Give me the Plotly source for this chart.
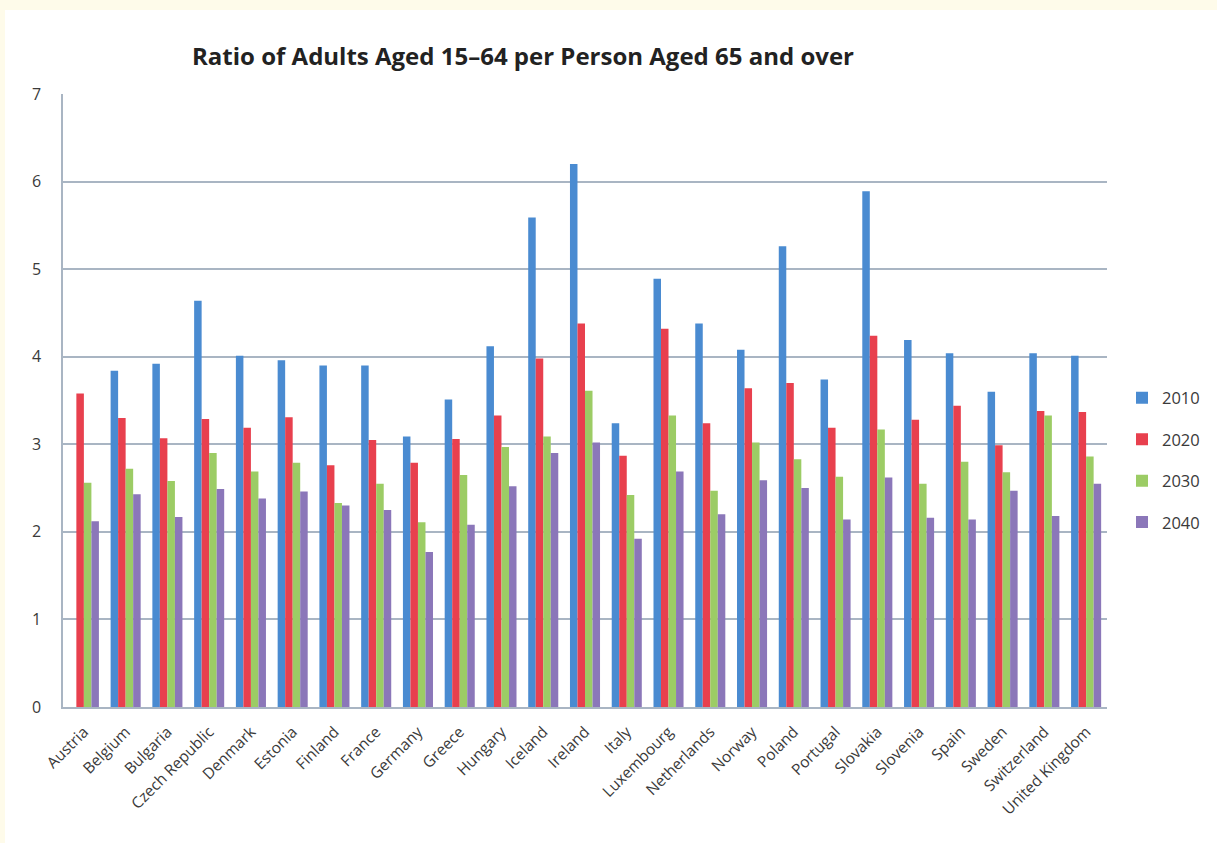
import plotly.graph_objects as go

# Countries on the category axis
countries = [
    "Austria", "Belgium", "Bulgaria", "Czech Republic", "Denmark", "Estonia",
    "Finland", "France", "Germany", "Greece", "Hungary", "Iceland", "Ireland",
    "Italy", "Luxembourg", "Netherlands", "Norway", "Poland", "Portugal",
    "Slovakia", "Slovenia", "Spain", "Sweden", "Switzerland", "United Kingdom",
]

# Ratio of adults aged 15-64 per person aged 65+, by year
ratio_2010 = [None, 3.84, 3.92, 4.64, 4.01, 3.96, 3.90, 3.90, 3.09, 3.51,
              4.12, 5.59, 6.20, 3.24, 4.89, 4.38, 4.08, 5.26, 3.74,
              5.89, 4.19, 4.04, 3.60, 4.04, 4.01]
ratio_2020 = [3.58, 3.30, 3.07, 3.29, 3.19, 3.31, 2.76, 3.05, 2.79, 3.06,
              3.33, 3.98, 4.38, 2.87, 4.32, 3.24, 3.64, 3.70, 3.19,
              4.24, 3.28, 3.44, 2.99, 3.38, 3.37]
ratio_2030 = [2.56, 2.72, 2.58, 2.90, 2.69, 2.79, 2.33, 2.55, 2.11, 2.65,
              2.97, 3.09, 3.61, 2.42, 3.33, 2.47, 3.02, 2.83, 2.63,
              3.17, 2.55, 2.80, 2.68, 3.33, 2.86]
ratio_2040 = [2.12, 2.43, 2.17, 2.49, 2.38, 2.46, 2.30, 2.25, 1.77, 2.08,
              2.52, 2.90, 3.02, 1.92, 2.69, 2.20, 2.59, 2.50, 2.14,
              2.62, 2.16, 2.14, 2.47, 2.18, 2.55]

years = ["2010", "2020", "2030", "2040"]
series = [ratio_2010, ratio_2020, ratio_2030, ratio_2040]
colors = ["#4a8bd1", "#e8404e", "#9ccc65", "#8b77b9"]

fig = go.Figure()
for name, vals, col in zip(years, series, colors):
    fig.add_trace(go.Bar(
        x=countries, y=vals, name=name, legendgroup=name,
        marker=dict(color=col, line=dict(width=0)),
    ))

W, H = 1217, 843
ml, mr, mt, mb = 63, 110, 94, 136
pw, ph = W - ml - mr, H - mt - mb

def px_x(px):
    return (px - ml) / pw

def px_y(py):
    return (H - mb - py) / ph

# White card on the cream page
fig.add_shape(type="rect", xref="paper", yref="paper", layer="below",
              x0=px_x(5), x1=px_x(W + 5), y0=px_y(H + 5), y1=px_y(10),
              fillcolor="white", line=dict(width=0))

text_col = "#3a3a3a"
fig.update_layout(
    width=W, height=H,
    margin=dict(l=ml, r=mr, t=mt, b=mb, pad=0, autoexpand=False),
    paper_bgcolor="#fefbea",
    plot_bgcolor="rgba(0,0,0,0)",
    barmode="group", bargap=0.28, bargroupgap=0,
    title=dict(
        text="<b>Ratio of Adults Aged 15–64 per Person Aged 65 and over</b>",
        font=dict(family="Open Sans", size=24, color="#222222"),
        x=px_x(523), xanchor="center", xref="paper",
        y=1 - 57 / H, yanchor="middle",
    ),
    font=dict(family="Open Sans", color=text_col),
    xaxis=dict(
        tickangle=-45, tickfont=dict(size=15.5, color=text_col),
        showgrid=False, showline=True, linecolor="#a9b5c3", linewidth=1.5,
        ticks="", ticklabelstandoff=8,
    ),
    yaxis=dict(
        range=[0, 7], dtick=1, tickfont=dict(size=16, color=text_col),
        showgrid=True, gridcolor="#a9b5c3", gridwidth=1.5,
        showline=True, linecolor="#a9b5c3", linewidth=1.5,
        zeroline=False, ticks="", ticklabelstandoff=17,
    ),
    legend=dict(
        x=px_x(1122), xanchor="left", y=px_y(460), yanchor="middle",
        font=dict(size=16.5, color=text_col),
        tracegroupgap=17, itemwidth=30, bgcolor="rgba(0,0,0,0)",
    ),
)

fig.write_html("out.html")
